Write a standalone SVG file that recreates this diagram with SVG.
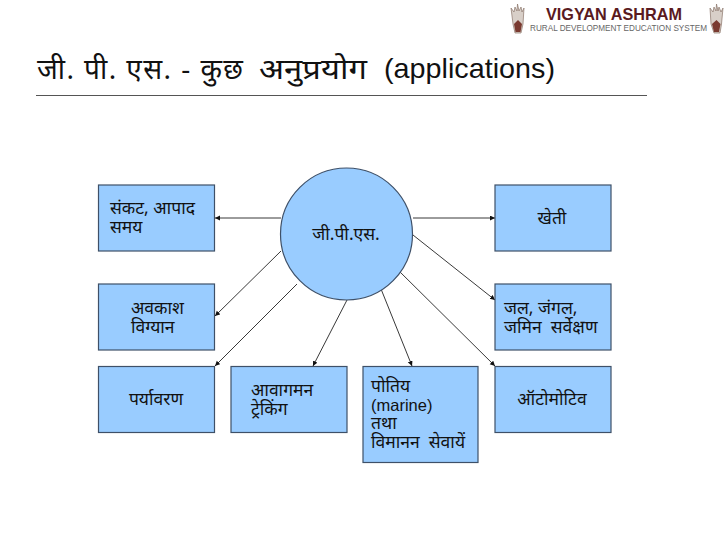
<svg xmlns="http://www.w3.org/2000/svg" width="728" height="546" viewBox="0 0 728 546">
<style>
.box{fill:#99ccff;stroke:#3e5068;stroke-width:1.2}
.t{font-family:"Noto Sans","Noto Sans Devanagari","Liberation Sans",sans-serif;font-size:17.5px;fill:#111}
.m{font-family:"Liberation Sans",sans-serif;font-size:16.5px;fill:#111}
.h{font-family:"Noto Sans","Noto Sans Devanagari","Liberation Sans",sans-serif;font-size:28px;fill:#111}
.c{stroke:#222;stroke-width:.9;fill:none;marker-end:url(#a)}
.crown{fill:#d8cfc8;stroke:#8a7468;stroke-width:.7}
.hand{fill:#7a3a30}
</style>
<defs><marker id="a" markerUnits="userSpaceOnUse" markerWidth="7" markerHeight="7" refX="5" refY="2.5" orient="auto"><path d="M0 0L5 2.5L0 5z" fill="#111"/></marker></defs>
<rect width="728" height="546" fill="#fff"/>
<g id="logo">
<path class="crown" d="M513 24L511 8L514 12L515 7L517 11L517.5 4L519 11L521 7L522 12L524 8L523 24L521 33L515 33Z"/>
<path class="hand" d="M514 24L518 20L522 24L520.5 32L515.5 32Z"/>
<path class="crown" d="M711 24L710 8L713 12L714 7L716 11L716.5 4L718 11L719 7L721 12L723 8L721.5 24L720 33L714 33Z"/>
<path class="hand" d="M712 24L716.5 20L720.5 24L719 32L714 32Z"/>
<text x="546" y="20" font-family="Liberation Sans,sans-serif" font-size="17" font-weight="bold" fill="#5a1a20" textLength="136" lengthAdjust="spacingAndGlyphs">VIGYAN ASHRAM</text>
<text x="530" y="30.5" font-family="Liberation Sans,sans-serif" font-size="8.5" fill="#666" textLength="177" lengthAdjust="spacingAndGlyphs">RURAL DEVELOPMENT EDUCATION SYSTEM</text>
</g>
<g id="title">
<text class="h" x="37" y="79" textLength="206" lengthAdjust="spacing">जी. पी. एस. - कुछ</text>
<text class="h" x="259" y="79" textLength="108" lengthAdjust="spacingAndGlyphs">अनुप्रयोग</text>
<text x="384" y="78" font-family="Liberation Sans,sans-serif" font-size="28" fill="#111" textLength="171" lengthAdjust="spacingAndGlyphs">(applications)</text>
<line x1="36" y1="95.5" x2="647" y2="95.5" stroke="#555" stroke-width="1"/>
</g>
<g id="connectors">
<line class="c" x1="281" y1="218" x2="215" y2="218"/>
<line class="c" x1="281" y1="251" x2="215" y2="316"/>
<line class="c" x1="297" y1="284" x2="215" y2="366"/>
<line class="c" x1="347" y1="300" x2="313" y2="366"/>
<line class="c" x1="379" y1="284" x2="412" y2="366"/>
<line class="c" x1="396" y1="268" x2="495" y2="366"/>
<line class="c" x1="413" y1="235" x2="495" y2="300"/>
<line class="c" x1="413" y1="218" x2="495" y2="218"/>
</g>
<g id="n-gps"><circle class="box" cx="346.5" cy="234" r="66"/><text class="t" x="346" y="240" text-anchor="middle">जी.पी.एस.</text></g>
<g id="n-sankat"><rect class="box" x="98.5" y="185" width="116" height="66"/><text class="t" x="110" y="214">संकट, आपाद</text><text class="t" x="110" y="233">समय</text></g>
<g id="n-avkash"><rect class="box" x="98.5" y="284" width="116" height="66"/><text class="t" x="131" y="314">अवकाश</text><text class="t" x="131" y="333">विग्यान</text></g>
<g id="n-paryavaran"><rect class="box" x="98.5" y="366.5" width="116" height="66"/><text class="t" x="156" y="405" text-anchor="middle">पर्यावरण</text></g>
<g id="n-avagaman"><rect class="box" x="231" y="366.5" width="116" height="66"/><text class="t" x="251" y="396">आवागमन</text><text class="t" x="251" y="415">ट्रेकिंग</text></g>
<g id="n-potiya"><rect class="box" x="363" y="366.5" width="115" height="96"/><text class="t" x="371" y="392">पोतिय</text><text class="m" x="371" y="411">(marine)</text><text class="t" x="371" y="429">तथा</text><text class="t" x="371" y="448">विमानन&#160;&#160;सेवायें</text></g>
<g id="n-auto"><rect class="box" x="495" y="366.5" width="116" height="66"/><text class="t" x="552" y="405" text-anchor="middle">ऑटोमोटिव</text></g>
<g id="n-jal"><rect class="box" x="495" y="284" width="116" height="66"/><text class="t" x="504" y="314">जल, जंगल,</text><text class="t" x="504" y="333">जमिन&#160;&#160;सर्वेक्षण</text></g>
<g id="n-kheti"><rect class="box" x="495" y="185" width="116" height="66"/><text class="t" x="552" y="224" text-anchor="middle">खेती</text></g>
</svg>
